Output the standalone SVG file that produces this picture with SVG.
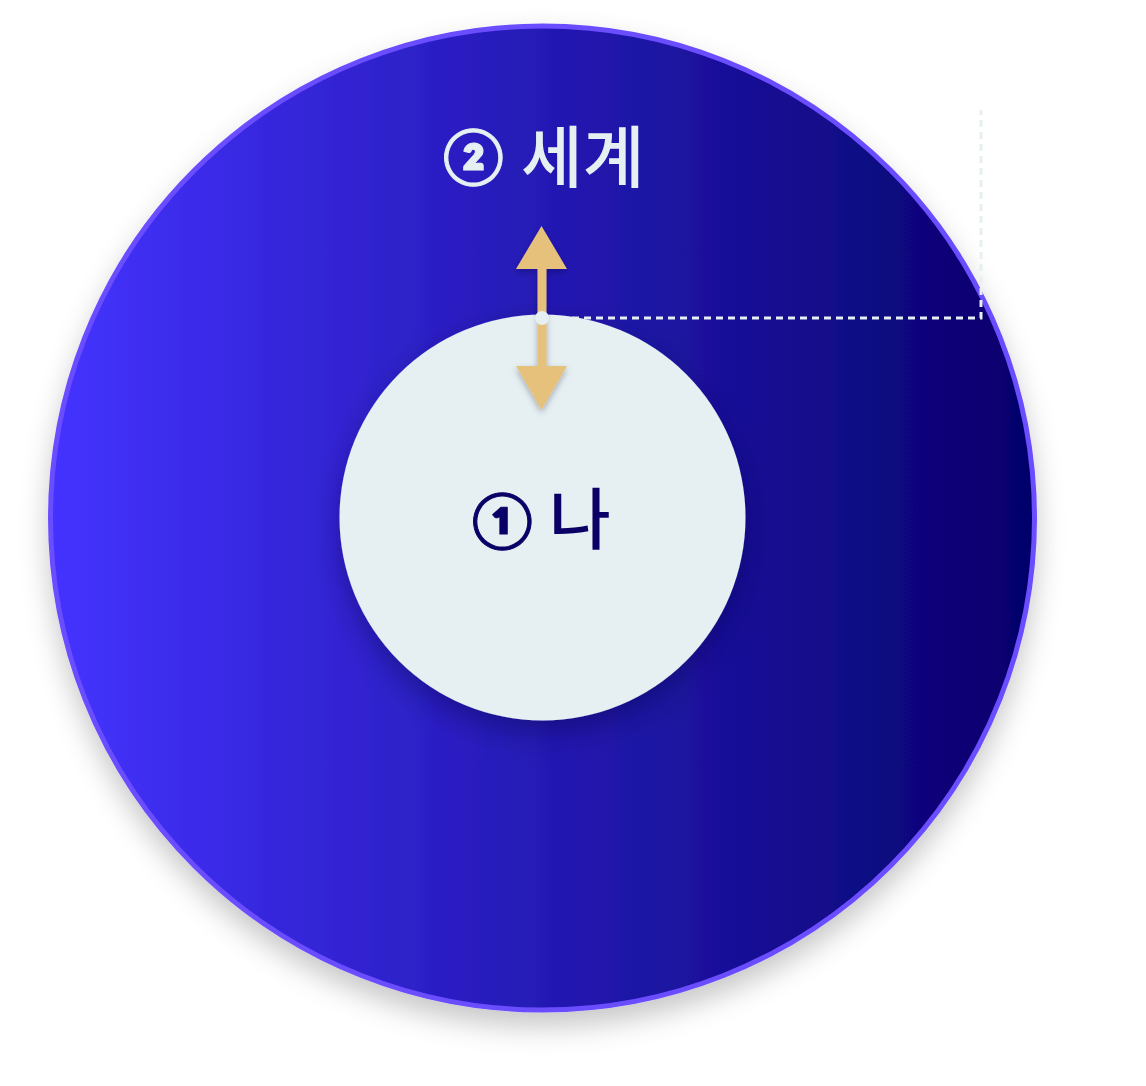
<svg xmlns="http://www.w3.org/2000/svg" width="1146" height="1086" viewBox="0 0 1146 1086">
<defs>
<linearGradient id="g" x1="0" y1="0" x2="1" y2="0">
<stop offset="0" stop-color="#4433ff"/>
<stop offset="1" stop-color="#05006a"/>
</linearGradient>
<filter id="sh" x="-20%" y="-20%" width="140%" height="150%">
<feDropShadow dx="0" dy="14" stdDeviation="14" flood-color="#000" flood-opacity="0.22"/>
</filter>
<filter id="sh2" x="-30%" y="-30%" width="160%" height="160%">
<feDropShadow dx="0" dy="12" stdDeviation="14" flood-color="#000033" flood-opacity="0.35"/>
</filter>
<filter id="sh3" x="-50%" y="-50%" width="200%" height="200%">
<feDropShadow dx="0" dy="3" stdDeviation="3" flood-color="#000033" flood-opacity="0.3"/>
</filter>
<style>
.num{font-family:Lato,"Noto Sans CJK KR",sans-serif;font-size:54px;font-weight:900;stroke-width:1;stroke-linejoin:round}
.word{font-family:"Noto Sans CJK KR",sans-serif;font-size:67px;font-weight:500}
.arrow{fill:#e6c17b}
</style>
</defs>
<g id="world">
<circle cx="542.5" cy="518" r="492" fill="url(#g)" stroke="#6a4dff" stroke-width="5" filter="url(#sh)"/>
<text fill="#e6f0f2" xml:space="preserve"><tspan class="num" x="443" y="174.5" stroke="#e6f0f2">② </tspan><tspan class="word" x="521" y="182">세계</tspan></text>
</g>
<g id="me">
<circle cx="542.5" cy="517.5" r="203" fill="#e6f0f2" filter="url(#sh2)"/>
<text fill="#0a0066" xml:space="preserve"><tspan class="num" x="472" y="538.5" stroke="#0a0066">① </tspan><tspan class="word" x="549" y="544">나</tspan></text>
</g>
<g id="connectors">
<polyline points="548,318 981,318 981,110" fill="none" stroke="#e6f0f2" stroke-width="3" stroke-dasharray="7,5"/>
<g filter="url(#sh3)">
<rect x="537.5" y="266" width="9" height="104" class="arrow"/>
<polygon points="541.5,226 567,269 516,269" class="arrow"/>
<polygon points="541.5,410 567,366 516,366" class="arrow"/>
</g>
<circle cx="542" cy="318" r="7" fill="#e6f0f2"/>
</g>
</svg>
